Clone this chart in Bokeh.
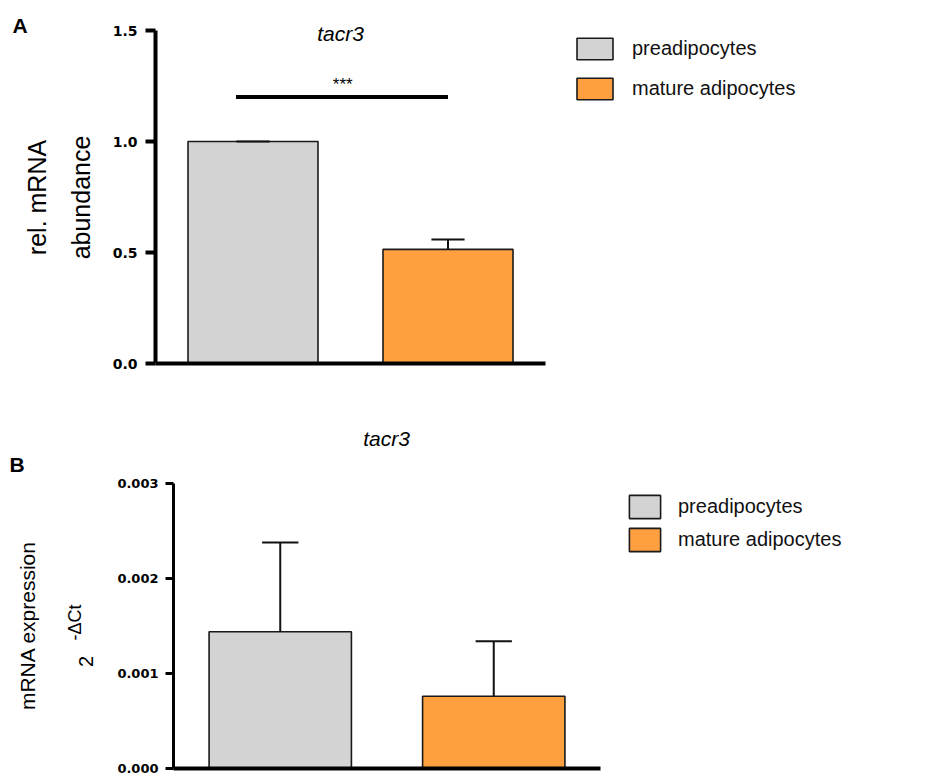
import math
from bokeh.plotting import figure
from bokeh.layouts import column
from bokeh.models import (ColumnDataSource, FixedTicker, PrintfTickFormatter, Label,
                          Legend, LegendItem, Range1d)
from bokeh.embed import file_html
from bokeh.resources import INLINE

# ---------------- data ----------------
groups = ["preadipocytes", "mature adipocytes"]
colors = ["#D3D3D3", "#FFA040"]
positions = [1, 2]

a_title = "tacr3"
a_mean = [1.0, 0.514]
a_err = [0.0, 0.045]
a_ticks = [0.0, 0.5, 1.0, 1.5]
a_sig_text = "***"
a_sig_y = 1.2
a_sig_x = [0.913, 2.0]

b_title = "tacr3"
b_mean = [0.00144, 0.00076]
b_err = [0.00094, 0.00058]
b_ticks = [0.0, 0.001, 0.002, 0.003]

FONT = "Liberation Sans"
TICK_FONT = "DejaVu Sans"
BAR_W = 2 / 3
CAP_HALF = 0.085
W = 927


def make_fig(h, ax_left, ax_right, ax_bottom, ax_top, ymax):
    # the frame covers the whole canvas; axes are drawn at fixed data locations
    pxu = (ax_right - ax_left) / 2.0
    pyu = (ax_bottom - ax_top) / ymax
    xr = Range1d(0.5 - ax_left / pxu, 0.5 + (W - ax_left) / pxu)
    yr = Range1d(-(h - ax_bottom) / pyu, ax_bottom / pyu)
    p = figure(width=W, height=h, x_range=xr, y_range=yr, title=None,
               output_backend="svg", toolbar_location=None,
               min_border_left=0, min_border_right=0, min_border_top=0, min_border_bottom=0)
    p.xgrid.grid_line_color = None
    p.ygrid.grid_line_color = None
    p.outline_line_color = None
    p.background_fill_color = "white"
    p.border_fill_color = "white"
    return p


def style_axes(p, tick_list, fmt, ymax, axis_w, xaxis_w, tick_len, standoff, font_size):
    y = p.yaxis[0]
    y.fixed_location = 0.5
    y.bounds = (0, ymax)
    y.ticker = FixedTicker(ticks=tick_list)
    y.formatter = PrintfTickFormatter(format=fmt)
    y.axis_line_width = axis_w
    y.axis_line_color = "black"
    y.major_tick_line_width = axis_w
    y.major_tick_line_color = "black"
    y.major_tick_out = tick_len
    y.major_tick_in = 0
    y.minor_tick_out = 0
    y.minor_tick_in = 0
    y.major_label_standoff = standoff
    y.major_label_text_font = TICK_FONT
    y.major_label_text_font_style = "bold"
    y.major_label_text_font_size = font_size
    y.major_label_text_color = "black"
    x = p.xaxis[0]
    x.fixed_location = 0
    x.bounds = (0.5, 2.5)
    x.ticker = FixedTicker(ticks=[])
    x.axis_line_width = xaxis_w
    x.axis_line_color = "black"
    x.major_tick_out = 0
    x.major_tick_in = 0
    x.minor_tick_out = 0
    x.minor_tick_in = 0
    x.major_label_text_font_size = "0px"
    x.major_label_standoff = 0


def add_bars(p, means, errs):
    src = ColumnDataSource(dict(x=positions, top=means, color=colors, name=groups))
    r = p.vbar(x="x", top="top", width=BAR_W, bottom=0, source=src,
               fill_color="color", line_color="#1a1a1a", line_width=1.6)
    tops = [m + e for m, e in zip(means, errs)]
    p.segment(x0=positions, y0=means, x1=positions, y1=tops,
              line_color="#111111", line_width=2)
    p.segment(x0=[v - CAP_HALF for v in positions], y0=tops,
              x1=[v + CAP_HALF for v in positions], y1=tops,
              line_color="#111111", line_width=2)
    return r


def add_legend(p, r, loc, gw, gh, standoff, spacing, fs):
    items = [LegendItem(label=g, renderers=[r], index=i) for i, g in enumerate(groups)]
    lg = Legend(items=items, location=loc, orientation="vertical",
                glyph_width=gw, glyph_height=gh, label_standoff=standoff,
                spacing=spacing, padding=0, margin=0,
                border_line_alpha=0, background_fill_alpha=0,
                label_text_font=FONT, label_text_font_size=fs,
                label_text_color="#111111", label_height=gh)
    p.add_layout(lg)


def text_label(p, x, y, text, size, angle=0.0, style="normal", align="center",
               baseline="middle", xu="screen", yu="screen"):
    p.add_layout(Label(x=x, y=y, x_units=xu, y_units=yu, text=text,
                       text_font=FONT, text_font_size=size, text_font_style=style,
                       text_align=align, text_baseline=baseline,
                       text_color="black", angle=angle))


# ---------------- Panel A ----------------
HA = 390
fa = make_fig(HA, 155, 545, 363, 30, 1.5)
style_axes(fa, a_ticks, "%.1f", 1.5, 4, 4, 10, 8, "14px")
ra = add_bars(fa, a_mean, a_err)
fa.segment(x0=[a_sig_x[0]], y0=[a_sig_y], x1=[a_sig_x[1]], y1=[a_sig_y],
           line_color="black", line_width=4)
text_label(fa, 1.46, 1.255, a_sig_text, "17px", xu="data", yu="data")
text_label(fa, 340, HA - 33, a_title, "21px", style="italic")
text_label(fa, 36, HA - 197, "rel. mRNA", "25px", angle=math.pi / 2)
text_label(fa, 80, HA - 197, "abundance", "25px", angle=math.pi / 2)
text_label(fa, 12, HA - 25, "A", "21px", style="bold", align="left")
add_legend(fa, ra, (572, HA - 102), 45, 27, 15, 13, "20px")

# ---------------- Panel B ----------------
HB = 386
fb = make_fig(HB, 173, 600, 378, 93, 0.003)
style_axes(fb, b_ticks, "%.3f", 0.003, 3, 4, 8, 7, "13px")
rb = add_bars(fb, b_mean, b_err)
text_label(fb, 386, HB - 48, b_title, "21px", style="italic")
text_label(fb, 27, HB - (625 - 390), "mRNA expression", "21px", angle=math.pi / 2)
text_label(fb, 85, HB - (661 - 390), "2", "20px", angle=math.pi / 2)
text_label(fb, 74, HB - (622 - 390), "-\u0394Ct", "18px", angle=math.pi / 2)
text_label(fb, 9, HB - (464 - 390), "B", "21px", style="bold", align="left")
add_legend(fb, rb, (625, HB - (554 - 390)), 39, 29, 14, 4, "20px")

layout = column(fa, fb, spacing=0)
open("out.html", "w").write(file_html(layout, INLINE))
